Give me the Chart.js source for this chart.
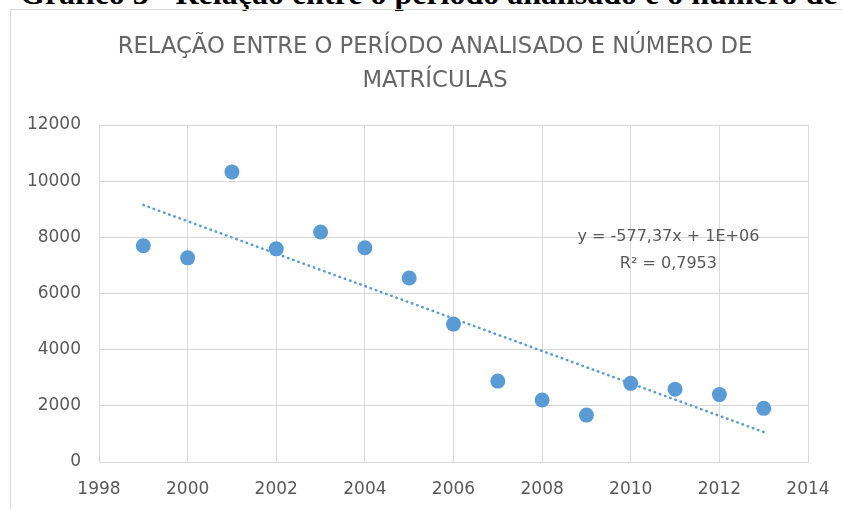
<!DOCTYPE html>
<html>
<head>
<meta charset="utf-8">
<script src="https://cdn.jsdelivr.net/npm/chart.js@4"></script>
<style>
  html, body { margin: 0; padding: 0; background: #fff; overflow: hidden; }
  #wrap { position: relative; width: 842px; height: 509px; overflow: hidden; }
  #caption { position: absolute; left: 20px; top: -25px; font: bold 32px "Liberation Serif", "Times New Roman", serif; color: #000; white-space: nowrap; line-height: 36px; }
  #box { position: absolute; left: 10px; top: 9px; width: 900px; height: 600px; border: 1px solid #d9d9d9; box-sizing: border-box; }
  canvas { position: absolute; left: 0; top: 0; }
</style>
</head>
<body>
<div id="wrap">
  <div id="caption">Gráfico 3 - Relação entre o período analisado e o número de</div>
  <div id="box"></div>
  <canvas id="c" width="842" height="509"></canvas>
</div>
<script>
// ---- data ----
const years = [1999, 2000, 2001, 2002, 2003, 2004, 2005, 2006, 2007, 2008, 2009, 2010, 2011, 2012, 2013];
const matriculas = [7700, 7270, 10330, 7590, 8190, 7630, 6550, 4910, 2880, 2210, 1670, 2800, 2590, 2400, 1910];
const yTicks = [0, 2000, 4000, 6000, 8000, 10000, 12000];
const xTicks = [1998, 2000, 2002, 2004, 2006, 2008, 2010, 2012, 2014];
const titleLines = ["RELAÇÃO ENTRE O PERÍODO ANALISADO E NÚMERO DE", "MATRÍCULAS"];
const equationLines = ["y = -577,37x + 1E+06", "R² = 0,7953"];

// linear least-squares trendline (as Excel computes it)
const n = years.length;
const mx = years.reduce((a, b) => a + b, 0) / n;
const my = matriculas.reduce((a, b) => a + b, 0) / n;
let sxy = 0, sxx = 0;
years.forEach((x, i) => { sxy += (x - mx) * (matriculas[i] - my); sxx += (x - mx) * (x - mx); });
const slope = sxy / sxx;
const intercept = my - slope * mx;
const xFirst = years[0], xLast = years[n - 1];
const trend = [
  { x: xFirst, y: intercept + slope * xFirst },
  { x: xLast, y: intercept + slope * xLast }
];

const BLUE = '#5b9bd5';
const GRID = '#d9d9d9';
const TEXT = '#595959';

const textPlugin = {
  id: 'texts',
  afterDraw(chart) {
    const { ctx, scales } = chart;
    ctx.save();
    // chart title (centred on the chart box)
    ctx.fillStyle = '#666666';
    ctx.font = '22.7px "DejaVu Sans"';
    ctx.textAlign = 'center';
    ctx.textBaseline = 'alphabetic';
    ctx.fillText(titleLines[0], 435, 53);
    ctx.fillText(titleLines[1], 435, 87);
    // trendline equation
    const cx = scales.x.getPixelForValue(2010.85);
    ctx.fillStyle = TEXT;
    ctx.font = '16px "DejaVu Sans"';
    ctx.textBaseline = 'middle';
    ctx.fillText(equationLines[0], cx, scales.y.getPixelForValue(8000));
    ctx.fillText(equationLines[1], cx, scales.y.getPixelForValue(7050));
    ctx.restore();
  }
};

new Chart(document.getElementById('c'), {
  type: 'scatter',
  data: {
    datasets: [
      {
        label: 'Matrículas',
        data: years.map((x, i) => ({ x, y: matriculas[i] })),
        backgroundColor: BLUE,
        borderColor: BLUE,
        pointRadius: 7.5,
        pointHoverRadius: 7.5,
        borderWidth: 0,
        order: 1
      },
      {
        label: 'Tendência',
        type: 'line',
        data: trend,
        borderColor: BLUE,
        borderWidth: 2.5,
        borderDash: [0.5, 5],
        borderCapStyle: 'round',
        pointRadius: 0,
        fill: false,
        order: 2
      }
    ]
  },
  options: {
    responsive: false,
    animation: false,
    events: [],
    layout: { padding: { left: 0, right: 34, top: 125, bottom: 0 } },
    plugins: {
      legend: { display: false },
      tooltip: { enabled: false },
      title: { display: false }
    },
    scales: {
      x: {
        type: 'linear',
        min: 1998, max: 2014,
        afterBuildTicks(scale) { scale.ticks = xTicks.map(v => ({ value: v })); },
        afterFit(scale) { scale.height = 47; scale.paddingLeft = 0; scale.paddingRight = 0; },
        grid: { color: GRID, lineWidth: 1, drawTicks: false },
        border: { color: GRID, width: 1 },
        ticks: { color: TEXT, font: { family: '"DejaVu Sans"', size: 17 }, padding: 17, maxRotation: 0, callback: v => String(v) }
      },
      y: {
        min: 0, max: 12000,
        afterBuildTicks(scale) { scale.ticks = yTicks.map(v => ({ value: v })); },
        afterFit(scale) { scale.width = 99; scale.paddingTop = 0; scale.paddingBottom = 0; },
        grid: { color: GRID, lineWidth: 1, drawTicks: false },
        border: { display: false },
        ticks: { color: TEXT, font: { family: '"DejaVu Sans"', size: 17 }, padding: 18, callback: v => String(v) }
      }
    }
  },
  plugins: [textPlugin]
});
</script>
</body>
</html>
